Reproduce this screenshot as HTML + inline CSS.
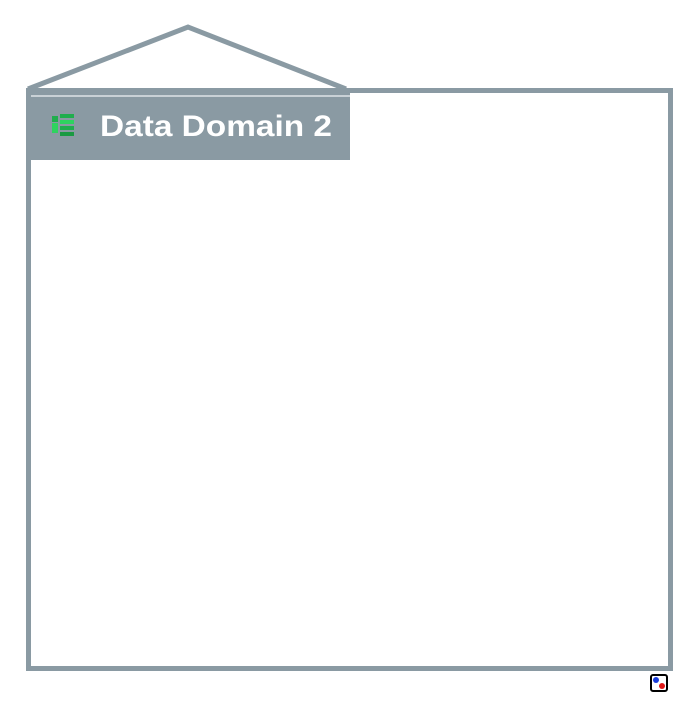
<!DOCTYPE html>
<html><head><style>
html,body{margin:0;padding:0;background:#fff;width:690px;height:709px;overflow:hidden;}
</style></head><body>
<svg width="690" height="709" xmlns="http://www.w3.org/2000/svg" style="position:absolute;left:0;top:0">
<polyline points="28,89 188,27 346,89" fill="none" stroke="#8a9aa3" stroke-width="5"/>
<rect x="28.5" y="90.5" width="642" height="578" fill="#fff" stroke="#8a9aa3" stroke-width="5"/>
<rect x="31" y="93" width="319" height="67" fill="#8a9aa3"/>
<line x1="31" y1="96" x2="350" y2="96" stroke="#c9d1d6" stroke-width="2"/>
<g>
<rect x="52" y="116" width="6" height="6" fill="#1fae4d"/>
<rect x="52" y="123" width="6" height="10" fill="#2ed35f"/>
<rect x="60" y="114" width="14" height="4" fill="#1fae4d"/>
<rect x="60" y="120" width="14" height="4" fill="#2ed35f"/>
<rect x="60" y="126" width="14" height="4" fill="#1fae4d"/>
<rect x="60" y="132" width="14" height="4" fill="#1a9a42"/>
</g>
<text x="100" y="136" font-family="Liberation Sans, sans-serif" font-weight="bold" font-size="30" fill="#fff" textLength="232" lengthAdjust="spacingAndGlyphs">Data Domain 2</text>
<rect x="651" y="675" width="16" height="16" fill="#fff" stroke="#000" stroke-width="2" rx="2"/>
<circle cx="656" cy="680" r="3" fill="#1a3ddc"/>
<circle cx="662" cy="686" r="3" fill="#e01818"/>
</svg>
</body></html>
